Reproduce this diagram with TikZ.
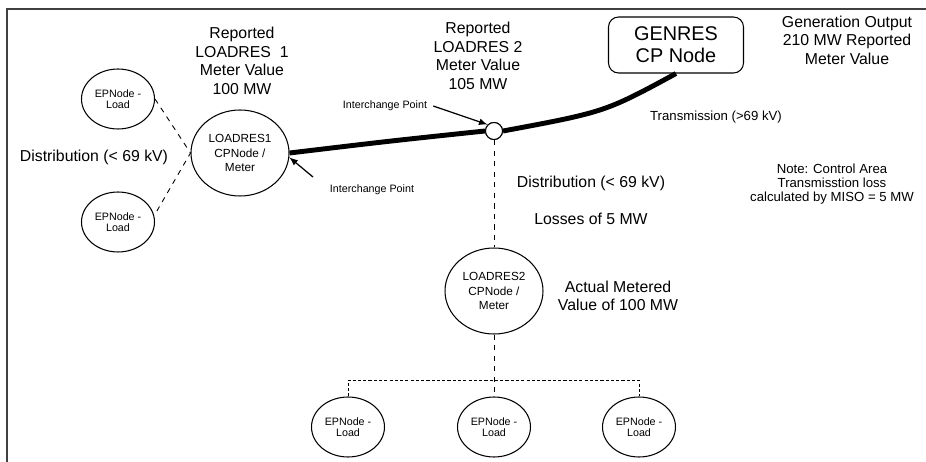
\documentclass[tikz,border=0pt]{standalone}
\usepackage{fontspec}
\setmainfont{Liberation Sans}
\usetikzlibrary{shapes.geometric}
\tikzset{
  epnode/.style={draw, ellipse, line width=0.6pt, inner sep=0pt, minimum width=1.46cm, minimum height=1.2cm, align=center, font=\fontsize{6.1}{6.6}\selectfont},
  cpnode/.style={draw, ellipse, line width=0.6pt, inner sep=0pt, minimum width=1.96cm, minimum height=1.72cm, align=center, font=\fontsize{6.7}{8.2}\selectfont},
  junction/.style={draw, circle, fill=white, line width=0.6pt, inner sep=0pt, minimum size=0.34cm},
  genbox/.style={draw, rounded corners=0.2cm, line width=0.6pt, minimum width=2.7cm, minimum height=1.12cm, align=center, font=\fontsize{11.3}{12.5}\selectfont},
  bigtxt/.style={align=center, font=\fontsize{9}{10.6}\selectfont},
  midtxt/.style={align=center, font=\fontsize{7.5}{8}\selectfont},
  smalltxt/.style={align=center, font=\fontsize{6.1}{6.6}\selectfont},
  trunk/.style={line width=2.8pt},
  pointer/.style={-latex, line width=0.7pt},
  distline/.style={dashed, line width=0.5pt},
  tapline/.style={dash pattern=on 1.8pt off 1.2pt, line width=0.45pt}
}
\begin{document}
\begin{tikzpicture}[x=0.02cm, y=-0.02cm]
\useasboundingbox (0,0) rectangle (926,462);
% frame
\draw[line width=1.1pt, black!75] (7,462) -- (7,9) -- (926,9);

% nodes
\node[epnode] (ep1) at (118,99) {EPNode -\\Load};
\node[epnode] (ep2) at (118,222) {EPNode -\\Load};
\node[cpnode] (ld1) at (240,153) {LOADRES1\\CPNode /\\Meter};
\node[junction] (ip) at (494,131) {};
\node[genbox] (gen) at (676,45) {GENRES\\CP Node};
\node[cpnode] (ld2) at (494,291) {LOADRES2\\CPNode /\\Meter};
\node[epnode] (ep3) at (348,427) {EPNode -\\Load};
\node[epnode] (ep4) at (494,427) {EPNode -\\Load};
\node[epnode] (ep5) at (639,427) {EPNode -\\Load};

% labels
\node[bigtxt] (rep1) at (242,61) {Reported\\LOADRES~~1\\Meter Value\\100 MW};
\node[bigtxt] (rep2) at (478,56) {Reported\\LOADRES 2\\Meter Value\\105 MW};
\node[bigtxt] (genout) at (847,40) {Generation Output\\210 MW Reported\\Meter Value};
\node[midtxt] (trans) at (716,117) {Transmission (>69 kV)};
\node[midtxt] (note) at (832,184) {Note: Control Area\\Transmisstion loss\\calculated by MISO = 5 MW};
\node[bigtxt] (dist1) at (94,157) {Distribution (< 69 kV)};
\node[bigtxt] (dist2) at (591,183) {Distribution (< 69 kV)};
\node[bigtxt] (loss) at (591,219) {Losses of 5 MW};
\node[bigtxt] (actual) at (618,296) {Actual Metered\\Value of 100 MW};
\node[smalltxt] (ic1) at (385,106) {Interchange Point};
\node[smalltxt] (ic2) at (372,190) {Interchange Point};
\coordinate (ic2tail) at (313,177);
\coordinate (bar) at (494,380);

% transmission
\draw[trunk] (ld1.east) .. controls (390,141) .. (ip.west);
\draw[trunk] (ip.east) .. controls (605,112) .. (gen.south);
\node[junction] at (ip) {};

% distribution
\draw[distline] (ep1.east) -- (ld1.west) -- (ep2.10);
\draw[distline] (ip.south) -- (ld2.north);
\draw[distline] (ld2.south) -- (ep4.north);
\draw[tapline] (ep3.north) |- (bar) -| (ep5.north);

% interchange arrows
\draw[pointer] (ic1.east) -- (ip.135);
\draw[pointer] (ic2tail) -- (ld1.-5);
\end{tikzpicture}
\end{document}
